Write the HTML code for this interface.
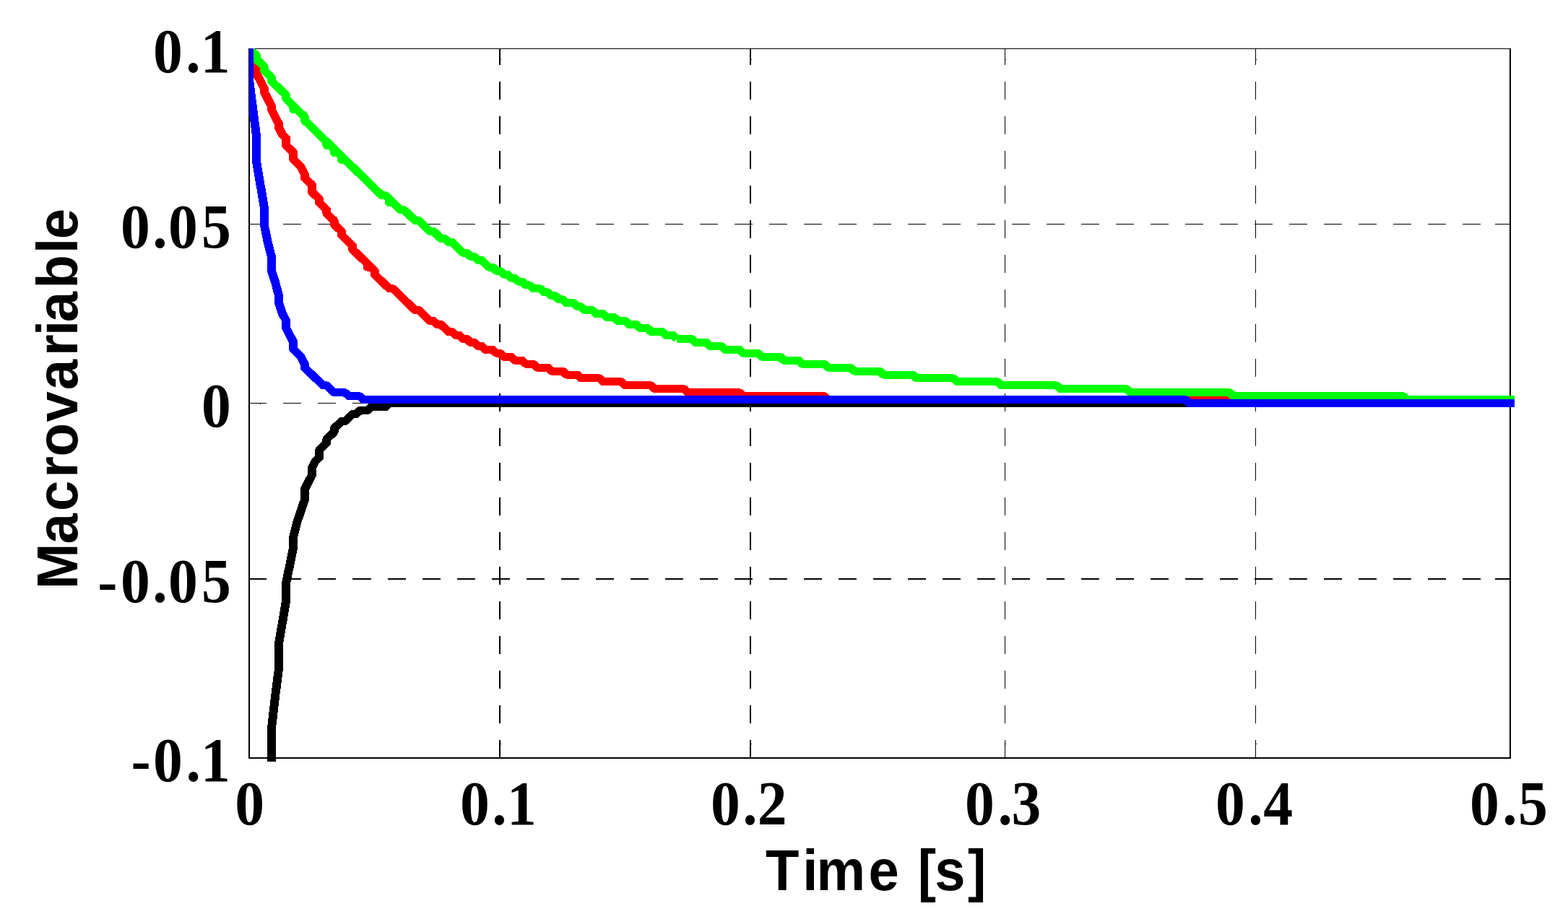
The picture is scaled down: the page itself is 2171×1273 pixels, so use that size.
<!DOCTYPE html>
<html lang="en">
<head>
<meta charset="utf-8">
<title>Macrovariable vs Time [s]</title>
<style>
html,body{margin:0;padding:0;background:#fff;}
body{width:2171px;height:1273px;overflow:hidden;}
svg{display:block;}
.tick{font-family:"Liberation Serif",serif;font-weight:bold;fill:#000;}
.lab{font-family:"Liberation Sans",sans-serif;font-weight:bold;fill:#000;}
.curve{fill:none;stroke-width:11;stroke-linejoin:round;stroke-linecap:butt;}
</style>
</head>
<body>
<svg width="2171" height="1273" viewBox="0 0 2171 1273">
<rect x="0" y="0" width="2171" height="1273" fill="#fff"/>
<defs><clipPath id="plotclip"><rect x="345" y="67" width="1752" height="988"/></clipPath></defs>
<g id="grid" fill="#000" shape-rendering="crispEdges">
<rect x="345" y="310" width="24" height="1"/><rect x="392" y="310" width="25" height="1"/><rect x="440" y="310" width="25" height="1"/><rect x="488" y="310" width="26" height="1"/><rect x="537" y="310" width="25" height="1"/><rect x="585" y="310" width="25" height="1"/><rect x="633" y="310" width="25" height="1"/><rect x="681" y="310" width="25" height="1"/><rect x="729" y="310" width="25" height="1"/><rect x="777" y="310" width="25" height="1"/><rect x="825" y="310" width="25" height="1"/><rect x="873" y="310" width="25" height="1"/><rect x="921" y="310" width="25" height="1"/><rect x="969" y="310" width="25" height="1"/><rect x="1017" y="310" width="25" height="1"/><rect x="1065" y="310" width="25" height="1"/><rect x="1113" y="310" width="25" height="1"/><rect x="1161" y="310" width="25" height="1"/><rect x="1209" y="310" width="25" height="1"/><rect x="1257" y="310" width="25" height="1"/><rect x="1305" y="310" width="25" height="1"/><rect x="1353" y="310" width="25" height="1"/><rect x="1401" y="310" width="25" height="1"/><rect x="1449" y="310" width="25" height="1"/><rect x="1497" y="310" width="25" height="1"/><rect x="1545" y="310" width="25" height="1"/><rect x="1593" y="310" width="25" height="1"/><rect x="1641" y="310" width="25" height="1"/><rect x="1689" y="310" width="25" height="1"/><rect x="1737" y="310" width="25" height="1"/><rect x="1785" y="310" width="25" height="1"/><rect x="1833" y="310" width="25" height="1"/><rect x="1881" y="310" width="25" height="1"/><rect x="1929" y="310" width="25" height="1"/><rect x="1977" y="310" width="25" height="1"/><rect x="2025" y="310" width="25" height="1"/><rect x="2073" y="310" width="17" height="1"/>
<rect x="345" y="558" width="24" height="1"/><rect x="392" y="558" width="25" height="1"/><rect x="440" y="558" width="25" height="1"/><rect x="488" y="558" width="26" height="1"/><rect x="537" y="558" width="25" height="1"/><rect x="585" y="558" width="25" height="1"/><rect x="633" y="558" width="25" height="1"/><rect x="681" y="558" width="25" height="1"/><rect x="729" y="558" width="25" height="1"/><rect x="777" y="558" width="25" height="1"/><rect x="825" y="558" width="25" height="1"/><rect x="873" y="558" width="25" height="1"/><rect x="921" y="558" width="25" height="1"/><rect x="969" y="558" width="25" height="1"/><rect x="1017" y="558" width="25" height="1"/><rect x="1065" y="558" width="25" height="1"/><rect x="1113" y="558" width="25" height="1"/><rect x="1161" y="558" width="25" height="1"/><rect x="1209" y="558" width="25" height="1"/><rect x="1257" y="558" width="25" height="1"/><rect x="1305" y="558" width="25" height="1"/><rect x="1353" y="558" width="25" height="1"/><rect x="1401" y="558" width="25" height="1"/><rect x="1449" y="558" width="25" height="1"/><rect x="1497" y="558" width="25" height="1"/><rect x="1545" y="558" width="25" height="1"/><rect x="1593" y="558" width="25" height="1"/><rect x="1641" y="558" width="25" height="1"/><rect x="1689" y="558" width="25" height="1"/><rect x="1737" y="558" width="25" height="1"/><rect x="1785" y="558" width="25" height="1"/><rect x="1833" y="558" width="25" height="1"/><rect x="1881" y="558" width="25" height="1"/><rect x="1929" y="558" width="25" height="1"/><rect x="1977" y="558" width="25" height="1"/><rect x="2025" y="558" width="25" height="1"/><rect x="2073" y="558" width="17" height="1"/>
<rect x="345" y="801" width="24" height="2"/><rect x="392" y="801" width="25" height="2"/><rect x="440" y="801" width="25" height="2"/><rect x="488" y="801" width="26" height="2"/><rect x="537" y="801" width="25" height="2"/><rect x="585" y="801" width="25" height="2"/><rect x="633" y="801" width="25" height="2"/><rect x="681" y="801" width="25" height="2"/><rect x="729" y="801" width="25" height="2"/><rect x="777" y="801" width="25" height="2"/><rect x="825" y="801" width="25" height="2"/><rect x="873" y="801" width="25" height="2"/><rect x="921" y="801" width="25" height="2"/><rect x="969" y="801" width="25" height="2"/><rect x="1017" y="801" width="25" height="2"/><rect x="1065" y="801" width="25" height="2"/><rect x="1113" y="801" width="25" height="2"/><rect x="1161" y="801" width="25" height="2"/><rect x="1209" y="801" width="25" height="2"/><rect x="1257" y="801" width="25" height="2"/><rect x="1305" y="801" width="25" height="2"/><rect x="1353" y="801" width="25" height="2"/><rect x="1401" y="801" width="25" height="2"/><rect x="1449" y="801" width="25" height="2"/><rect x="1497" y="801" width="25" height="2"/><rect x="1545" y="801" width="25" height="2"/><rect x="1593" y="801" width="25" height="2"/><rect x="1641" y="801" width="25" height="2"/><rect x="1689" y="801" width="25" height="2"/><rect x="1737" y="801" width="25" height="2"/><rect x="1785" y="801" width="25" height="2"/><rect x="1833" y="801" width="25" height="2"/><rect x="1881" y="801" width="25" height="2"/><rect x="1929" y="801" width="25" height="2"/><rect x="1977" y="801" width="25" height="2"/><rect x="2025" y="801" width="25" height="2"/><rect x="2073" y="801" width="17" height="2"/>
<rect x="691" y="68" width="2" height="22"/><rect x="691" y="113" width="2" height="25"/><rect x="691" y="161" width="2" height="25"/><rect x="691" y="209" width="2" height="25"/><rect x="691" y="257" width="2" height="25"/><rect x="691" y="305" width="2" height="25"/><rect x="691" y="353" width="2" height="25"/><rect x="691" y="401" width="2" height="25"/><rect x="691" y="449" width="2" height="25"/><rect x="691" y="497" width="2" height="25"/><rect x="691" y="545" width="2" height="25"/><rect x="691" y="593" width="2" height="25"/><rect x="691" y="641" width="2" height="25"/><rect x="691" y="689" width="2" height="25"/><rect x="691" y="737" width="2" height="25"/><rect x="691" y="785" width="2" height="25"/><rect x="691" y="833" width="2" height="25"/><rect x="691" y="881" width="2" height="25"/><rect x="691" y="929" width="2" height="25"/><rect x="691" y="977" width="2" height="25"/><rect x="691" y="1025" width="2" height="24"/>
<rect x="1038" y="68" width="2" height="22"/><rect x="1038" y="113" width="2" height="25"/><rect x="1038" y="161" width="2" height="25"/><rect x="1038" y="209" width="2" height="25"/><rect x="1038" y="257" width="2" height="25"/><rect x="1038" y="305" width="2" height="25"/><rect x="1038" y="353" width="2" height="25"/><rect x="1038" y="401" width="2" height="25"/><rect x="1038" y="449" width="2" height="25"/><rect x="1038" y="497" width="2" height="25"/><rect x="1038" y="545" width="2" height="25"/><rect x="1038" y="593" width="2" height="25"/><rect x="1038" y="641" width="2" height="25"/><rect x="1038" y="689" width="2" height="25"/><rect x="1038" y="737" width="2" height="25"/><rect x="1038" y="785" width="2" height="25"/><rect x="1038" y="833" width="2" height="25"/><rect x="1038" y="881" width="2" height="25"/><rect x="1038" y="929" width="2" height="25"/><rect x="1038" y="977" width="2" height="25"/><rect x="1038" y="1025" width="2" height="24"/>
<rect x="1391" y="68" width="1" height="22"/><rect x="1391" y="113" width="1" height="25"/><rect x="1391" y="161" width="1" height="25"/><rect x="1391" y="209" width="1" height="25"/><rect x="1391" y="257" width="1" height="25"/><rect x="1391" y="305" width="1" height="25"/><rect x="1391" y="353" width="1" height="25"/><rect x="1391" y="401" width="1" height="25"/><rect x="1391" y="449" width="1" height="25"/><rect x="1391" y="497" width="1" height="25"/><rect x="1391" y="545" width="1" height="25"/><rect x="1391" y="593" width="1" height="25"/><rect x="1391" y="641" width="1" height="25"/><rect x="1391" y="689" width="1" height="25"/><rect x="1391" y="737" width="1" height="25"/><rect x="1391" y="785" width="1" height="25"/><rect x="1391" y="833" width="1" height="25"/><rect x="1391" y="881" width="1" height="25"/><rect x="1391" y="929" width="1" height="25"/><rect x="1391" y="977" width="1" height="25"/><rect x="1391" y="1025" width="1" height="24"/>
<rect x="1738" y="68" width="1" height="22"/><rect x="1738" y="113" width="1" height="25"/><rect x="1738" y="161" width="1" height="25"/><rect x="1738" y="209" width="1" height="25"/><rect x="1738" y="257" width="1" height="25"/><rect x="1738" y="305" width="1" height="25"/><rect x="1738" y="353" width="1" height="25"/><rect x="1738" y="401" width="1" height="25"/><rect x="1738" y="449" width="1" height="25"/><rect x="1738" y="497" width="1" height="25"/><rect x="1738" y="545" width="1" height="25"/><rect x="1738" y="593" width="1" height="25"/><rect x="1738" y="641" width="1" height="25"/><rect x="1738" y="689" width="1" height="25"/><rect x="1738" y="737" width="1" height="25"/><rect x="1738" y="785" width="1" height="25"/><rect x="1738" y="833" width="1" height="25"/><rect x="1738" y="881" width="1" height="25"/><rect x="1738" y="929" width="1" height="25"/><rect x="1738" y="977" width="1" height="25"/><rect x="1738" y="1025" width="1" height="24"/>
</g>
<g id="ticks" fill="#000" shape-rendering="crispEdges">
<rect x="2070" y="310" width="20" height="1"/><rect x="2070" y="558" width="20" height="1"/><rect x="2070" y="801" width="20" height="2"/>
<rect x="693" y="82" width="1" height="1"/><rect x="693" y="1030" width="1" height="1"/><rect x="1040" y="82" width="1" height="1"/><rect x="1040" y="1030" width="1" height="1"/><rect x="1392" y="82" width="1" height="1"/><rect x="1392" y="1030" width="1" height="1"/><rect x="1739" y="82" width="1" height="1"/><rect x="1739" y="1030" width="1" height="1"/><rect x="360" y="559" width="1" height="1"/>
</g>
<g id="axes" fill="#000" shape-rendering="crispEdges">
<rect x="344" y="67" width="2" height="984"/>
<rect x="2090" y="67" width="2" height="984"/>
<rect x="344" y="67" width="1748" height="1"/>
<rect x="344" y="1049" width="1748" height="2"/>
</g>
<g id="curves" clip-path="url(#plotclip)" shape-rendering="crispEdges"><g transform="scale(1.090909 1)">
<path id="black" class="curve" stroke="#000" d="M316.43 1784.33 L316.43 1670.21 L321.11 1561.04 L325.79 1466.77 L325.79 1382.41 L330.47 1303.02 L335.15 1233.55 L335.15 1169.05 L339.83 1109.50 L344.51 1054.92 L344.51 1010.26 L349.18 965.60 L353.86 925.91 L353.86 891.17 L363.22 831.63 L363.22 806.82 L372.58 757.20 L372.58 742.31 L377.26 722.47 L386.61 692.69 L386.61 677.81 L395.97 657.96 L395.97 648.04 L400.65 638.11 L405.33 633.15 L405.33 623.23 L414.69 613.30 L414.69 608.34 L424.04 598.42 L424.04 593.45 L433.40 583.53 L438.08 583.53 L447.44 573.61 L452.11 573.61 L456.79 568.64 L466.15 568.64 L470.83 563.68 L489.54 563.68 L494.22 558.72 L1972.68 558.72"/>
<path id="red" class="curve" stroke="#f00" d="M316.43 67.48 L316.43 77.41 L321.11 82.37 L325.79 92.29 L325.79 102.22 L335.15 122.06 L335.15 127.03 L344.51 146.87 L344.51 151.84 L353.86 171.68 L353.86 176.65 L358.54 186.57 L363.22 191.53 L363.22 201.46 L372.58 211.38 L372.58 221.30 L381.93 231.23 L386.61 241.15 L386.61 246.11 L395.97 256.04 L395.97 265.96 L405.33 275.89 L405.33 280.85 L414.69 290.77 L414.69 295.73 L424.04 305.66 L424.04 310.62 L433.40 320.54 L433.40 325.51 L447.44 340.39 L447.44 345.35 L466.15 365.20 L466.15 370.16 L470.83 370.16 L475.51 375.13 L475.51 380.09 L494.22 399.94 L498.90 399.94 L526.97 429.71 L531.65 429.71 L545.69 444.59 L550.37 444.59 L555.05 449.56 L559.72 449.56 L569.08 459.48 L573.76 459.48 L578.44 464.44 L583.12 464.44 L587.80 469.40 L592.47 469.40 L597.15 474.37 L601.83 474.37 L606.51 479.33 L611.19 479.33 L615.87 484.29 L625.23 484.29 L629.90 489.25 L634.58 489.25 L639.26 494.21 L648.62 494.21 L653.30 499.18 L662.65 499.18 L667.33 504.14 L676.69 504.14 L681.37 509.10 L695.41 509.10 L700.08 514.06 L714.12 514.06 L718.80 519.02 L732.83 519.02 L737.51 523.99 L760.91 523.99 L765.59 528.95 L788.98 528.95 L793.66 533.91 L826.41 533.91 L831.09 538.87 L868.52 538.87 L873.19 543.83 L938.70 543.83 L943.37 548.80 L1046.31 548.80 L1050.98 553.76 L1972.68 553.76 M466.15 365.20 L470.83 370.16"/>
<path id="green" class="curve" stroke="#0f0" d="M316.43 62.52 L316.43 67.48 L325.79 77.41 L325.79 82.37 L335.15 92.29 L335.15 97.25 L344.51 107.18 L344.51 112.14 L363.22 131.99 L363.22 136.95 L372.58 146.87 L372.58 151.84 L377.26 151.84 L386.61 161.76 L386.61 166.72 L414.69 196.49 L414.69 201.46 L419.36 201.46 L424.04 206.42 L424.04 211.38 L428.72 211.38 L433.40 216.34 L433.40 221.30 L438.08 221.30 L484.87 270.92 L489.54 270.92 L494.22 275.89 L494.22 280.85 L498.90 280.85 L508.26 290.77 L512.94 290.77 L526.97 305.66 L531.65 305.66 L545.69 320.54 L550.37 320.54 L559.72 330.47 L564.40 330.47 L569.08 335.43 L573.76 335.43 L587.80 350.32 L592.47 350.32 L597.15 355.28 L601.83 355.28 L606.51 360.24 L611.19 360.24 L620.55 370.16 L625.23 370.16 L629.90 375.13 L634.58 375.13 L639.26 380.09 L643.94 380.09 L648.62 385.05 L653.30 385.05 L657.98 390.01 L662.65 390.01 L667.33 394.97 L672.01 394.97 L676.69 399.94 L686.05 399.94 L690.73 404.90 L695.41 404.90 L700.08 409.86 L704.76 409.86 L709.44 414.82 L714.12 414.82 L718.80 419.78 L728.16 419.78 L732.83 424.75 L737.51 424.75 L742.19 429.71 L751.55 429.71 L756.23 434.67 L765.59 434.67 L770.26 439.63 L779.62 439.63 L784.30 444.59 L793.66 444.59 L798.34 449.56 L807.69 449.56 L812.37 454.52 L821.73 454.52 L826.41 459.48 L840.44 459.48 L845.12 464.44 L854.48 464.44 L859.16 469.40 M859.16 469.40 L877.87 469.40 L882.55 474.37 L896.59 474.37 L901.27 479.33 L915.30 479.33 L919.98 484.29 L938.70 484.29 L943.37 489.25 L962.09 489.25 L966.77 494.21 L990.16 494.21 L994.84 499.18 L1013.55 499.18 L1018.23 504.14 L1046.31 504.14 L1050.98 509.10 L1079.06 509.10 L1083.73 514.06 L1116.49 514.06 L1121.16 519.02 L1158.59 519.02 L1163.27 523.99 L1210.06 523.99 L1214.74 528.95 L1266.20 528.95 L1270.88 533.91 L1341.06 533.91 L1345.74 538.87 L1429.96 538.87 L1434.63 543.83 L1560.96 543.83 L1565.64 548.80 L1780.86 548.80 L1785.53 553.76 L1972.68 553.76 M372.58 146.87 L377.26 151.84 M414.69 196.49 L419.36 201.46 M424.04 206.42 L428.72 211.38 M433.40 216.34 L438.08 221.30 M494.22 275.89 L498.90 280.85"/>
<path id="blue" class="curve" stroke="#00f" d="M316.43 62.52 L316.43 112.14 L325.79 191.53 L325.79 226.27 L335.15 285.81 L335.15 310.62 L339.83 335.43 L344.51 355.28 L344.51 375.13 L349.18 390.01 L353.86 409.86 L353.86 419.78 L358.54 434.67 L363.22 444.59 L363.22 454.52 L372.58 474.37 L372.58 484.29 L381.93 494.21 L386.61 504.14 L386.61 509.10 L410.01 533.91 L414.69 533.91 L424.04 543.83 L438.08 543.83 L442.76 548.80 L456.79 548.80 L461.47 553.76 L1504.81 553.76 L1509.49 558.72 L1972.68 558.72"/>
</g></g>
<g id="yticks" class="tick">
<text transform="scale(0.95 1)" x="223.13 270.88 292.46" y="100" font-size="86">0.1</text>
<text transform="scale(0.95 1)" x="175.76 222.41 245.34 293.69" y="343" font-size="86">0.05</text>
<text transform="scale(0.95 1)" x="293.82" y="591" font-size="86">0</text>
<text transform="scale(0.95 1)" x="142.41 175.82 222.46 245.29 293.59" y="834" font-size="86">-0.05</text>
<text transform="scale(0.95 1)" x="190.94 223.24 270.99 292.51" y="1082" font-size="86">-0.1</text>
</g>
<g id="xticks" class="tick">
<text transform="scale(0.95 1)" x="342.29" y="1142" font-size="86">0</text>
<text transform="scale(0.95 1)" x="670.66 717.09 738.88" y="1142" font-size="86">0.1</text>
<text transform="scale(0.95 1)" x="1035.92 1082.41 1103.89" y="1142" font-size="86">0.2</text>
<text transform="scale(0.95 1)" x="1406.34 1454.14 1474.22" y="1142" font-size="86">0.3</text>
<text transform="scale(0.95 1)" x="1771.71 1819.25 1841.26" y="1142" font-size="86">0.4</text>
<text transform="scale(0.95 1)" x="2142.24 2189.78 2212.64" y="1142" font-size="86">0.5</text>
</g>
<g id="labels" class="lab">
<text transform="scale(0.95 1)" x="1115.92 1169.63 1190.09 1265.71 1289.71 1337.51 1362.47 1410.59" y="1233" font-size="80">Time [s]</text>
<text transform="translate(107 812) rotate(-90) scale(0.95 1)" x="-4.30 61.64 109.51 158.27 188.87 239.45 285.95 335.90 365.32 384.95 434.15 485.26 506.03" y="0" font-size="80">Macrovariable</text>
</g>
</svg>
</body>
</html>
